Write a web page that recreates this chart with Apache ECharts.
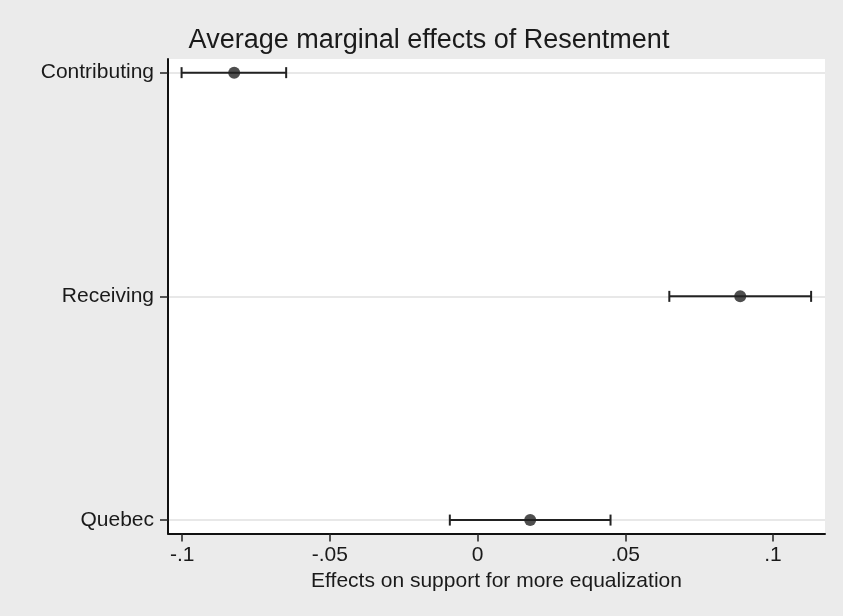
<!DOCTYPE html>
<html>
<head>
    <meta charset="UTF-8">
    <title>Average marginal effects of Resentment</title>
    <style>
        html, body {
            margin: 0;
            padding: 0;
            width: 100%;
            height: 100%;
            overflow: hidden;
            background: #ebebeb;
        }
        #main {
            width: 843px;
            height: 616px;
        }
    </style>
    <script src="https://cdn.jsdelivr.net/npm/echarts@6/dist/echarts.min.js"></script>
</head>
<body>
    <div id="main"></div>

    <script>
        // Categories, bottom to top on the y axis
        const categories = ['Quebec', 'Receiving', 'Contributing'];
        const positions = [1, 2, 3];

        // Average marginal effects and 95% CI bounds
        const estimates = [0.0178, 0.0889, -0.0824];
        const lowerCI = [-0.0094, 0.0649, -0.1002];
        const upperCI = [0.0450, 0.1129, -0.0648];

        // x axis ticks
        const xTicks = [-0.1, -0.05, 0, 0.05, 0.1];
        const xTickLabels = ['-.1', '-.05', '0', '.05', '.1'];

        const fontFamily = '"Liberation Sans", Arial, Helvetica, sans-serif';
        const ink = '#222222';

        const chart = echarts.init(document.getElementById('main'));

        const pointData = positions.map((p, i) => [estimates[i], p]);
        const ciData = positions.map((p, i) => [lowerCI[i], upperCI[i], p]);

        function renderErrorBar(params, api) {
            const lo = api.coord([api.value(0), api.value(2)]);
            const hi = api.coord([api.value(1), api.value(2)]);
            const cap = 5.5;
            const style = { stroke: ink, lineWidth: 2 };
            return {
                type: 'group',
                children: [
                    { type: 'line', shape: { x1: lo[0], y1: lo[1], x2: hi[0], y2: hi[1] }, style: style },
                    { type: 'line', shape: { x1: lo[0], y1: lo[1] - cap, x2: lo[0], y2: lo[1] + cap }, style: style },
                    { type: 'line', shape: { x1: hi[0], y1: hi[1] - cap, x2: hi[0], y2: hi[1] + cap }, style: style }
                ]
            };
        }

        const option = {
            backgroundColor: '#ebebeb',
            animation: false,
            textStyle: { fontFamily: fontFamily },
            title: {
                text: 'Average marginal effects of Resentment',
                left: 424,
                textAlign: 'center',
                top: 22,
                textStyle: { fontFamily: fontFamily, fontSize: 27, fontWeight: 'normal', color: '#1a1a1a' }
            },
            grid: {
                left: 168,
                right: 18,
                top: 59,
                bottom: 82.5,
                show: true,
                backgroundColor: '#ffffff',
                borderWidth: 0
            },
            xAxis: {
                type: 'value',
                min: -0.1048,
                max: 0.1176,
                name: 'Effects on support for more equalization',
                nameLocation: 'middle',
                nameGap: 33,
                nameTextStyle: { fontFamily: fontFamily, fontSize: 21, color: '#1a1a1a' },
                axisLine: { show: true, onZero: false, lineStyle: { color: '#111', width: 2 } },
                axisTick: { show: true, length: 8, customValues: xTicks, lineStyle: { color: '#222', width: 1.5 } },
                axisLabel: {
                    customValues: xTicks,
                    margin: 11,
                    fontSize: 21,
                    color: '#1a1a1a',
                    fontFamily: fontFamily,
                    formatter: function (v) {
                        let best = 0;
                        xTicks.forEach((t, i) => { if (Math.abs(t - v) < Math.abs(xTicks[best] - v)) best = i; });
                        return xTickLabels[best];
                    }
                },
                splitLine: { show: false }
            },
            yAxis: {
                type: 'value',
                min: 0.94,
                max: 3.061,
                axisLine: { show: true, onZero: false, lineStyle: { color: '#111', width: 2 } },
                axisTick: { show: true, length: 8, customValues: positions, lineStyle: { color: '#222', width: 1.5 } },
                axisLabel: {
                    customValues: positions,
                    margin: 14,
                    fontSize: 21,
                    color: '#1a1a1a',
                    fontFamily: fontFamily,
                    formatter: function (v) {
                        let best = 0;
                        positions.forEach((p, i) => { if (Math.abs(p - v) < Math.abs(positions[best] - v)) best = i; });
                        return categories[best];
                    }
                },
                splitLine: { show: true, lineStyle: { color: '#e8e8e8', width: 2 } }
            },
            series: [
                {
                    type: 'custom',
                    name: 'CI',
                    renderItem: renderErrorBar,
                    encode: { x: [0, 1], y: 2 },
                    data: ciData,
                    z: 2
                },
                {
                    type: 'scatter',
                    name: 'AME',
                    data: pointData,
                    symbol: 'circle',
                    symbolSize: 12,
                    itemStyle: { color: ink },
                    z: 3
                }
            ]
        };

        chart.setOption(option);

        window.addEventListener('resize', () => {
            chart.resize();
        });
    </script>
</body>
</html>
